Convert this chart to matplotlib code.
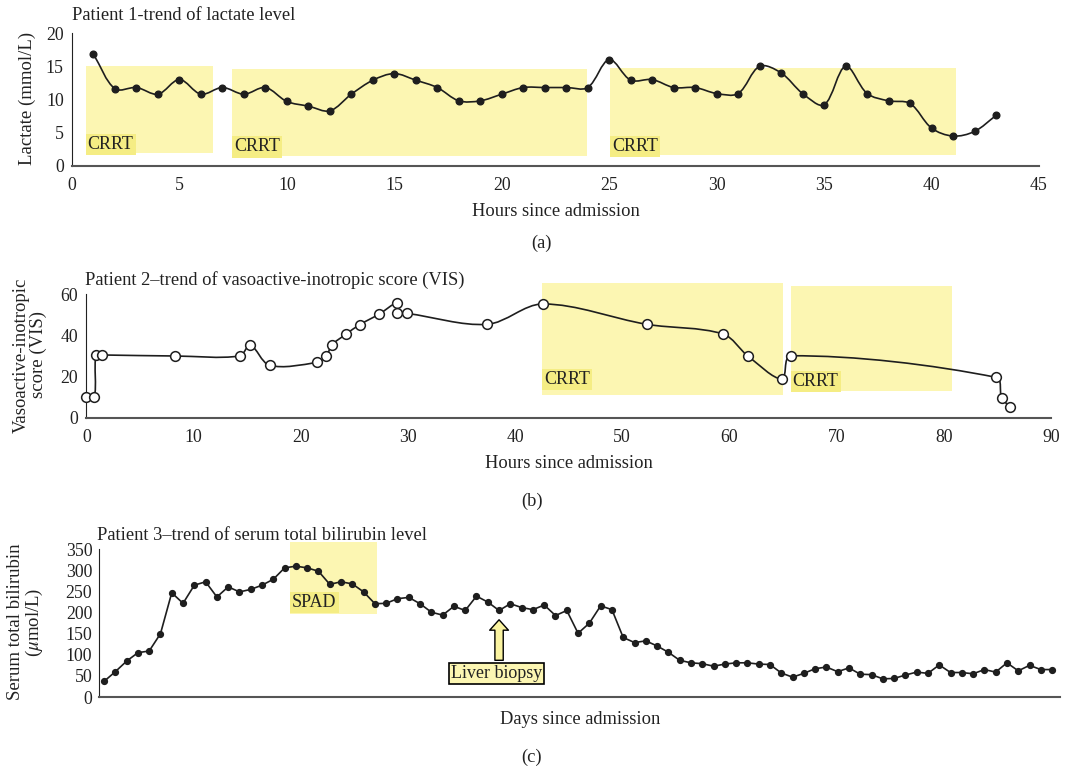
import matplotlib
matplotlib.use('Agg')
import math
import matplotlib.pyplot as plt
from matplotlib.path import Path
from matplotlib.patches import PathPatch, Rectangle

plt.rcParams['font.family'] = ['Liberation Serif', 'DejaVu Serif']
plt.rcParams['mathtext.fontset'] = 'stix'

# ---- data ----
lact_hours = list(range(1, 44))
lactate = [16.8, 11.6, 11.8, 10.8, 13.0, 10.8, 11.8, 10.8, 11.8, 9.7,
           9.0, 8.3, 10.8, 12.9, 13.9, 12.9, 11.8, 9.8, 9.8, 10.8,
           11.8, 11.8, 11.8, 11.8, 16.0, 12.9, 13.0, 11.8, 11.8, 10.9,
           10.9, 15.0, 14.0, 10.9, 9.2, 15.0, 10.9, 9.8, 9.4, 5.7,
           4.5, 5.2, 7.6]
lact_crrt = [(0.65, 6.55, 1.9, 15.0), (7.45, 23.95, 1.5, 14.6), (25.05, 41.15, 1.6, 14.7)]

vis_hours = [0, 0.75, 0.9, 1.5, 8.3, 14.3, 15.3, 17.1, 21.5, 22.4, 22.9, 24.2, 25.5,
             27.3, 29.0, 29.0, 29.9, 37.4, 42.6, 52.3, 59.4, 61.7, 64.9, 65.7,
             84.9, 85.4, 86.2]
vis = [10, 10, 30.5, 30.5, 30, 30, 35.3, 25.5, 26.9, 30, 35.3, 40.5, 45.2,
       50.3, 55.8, 50.7, 50.7, 45.4, 55.3, 45.4, 40.7, 30.1, 18.8, 30.1,
       19.6, 9.6, 5.2]
vis_crrt = [(42.5, 65.0, 11.0, 65.3), (65.7, 80.8, 13.1, 64.0)]

bili = [37, 60, 85, 105, 109, 150, 247, 222, 265, 273,
        237, 261, 249, 255, 265, 279, 306, 310, 306, 298,
        267, 273, 268, 249, 221, 222, 233, 236, 221, 201,
        194, 215, 205, 239, 225, 205, 221, 212, 207, 218,
        193, 205, 151, 175, 216, 207, 141, 129, 133, 121,
        106, 87, 81, 79, 73, 78, 81, 81, 78, 77,
        57, 47, 56, 67, 71, 60, 69, 54, 53, 43,
        44, 52, 59, 56, 76, 58, 58, 55, 65, 59,
        81, 62, 75, 65, 65]
bili_days = list(range(1, len(bili) + 1))
spad = (17.5, 25.2, 196, 367)

rect_c = '#FCF6B2'
lab_c = '#F5ED84'
line_c = '#1e1e1e'
W, H = 1066, 767


def smooth_path(xs, ys, sx, sy):
    # smoothed line (cubic bezier through the data points),
    # tangents weighted by segment length in pixels to avoid overshoot
    pts = list(zip(xs, ys))
    n = len(pts)

    def dist(a, b):
        return math.hypot((a[0] - b[0]) * sx, (a[1] - b[1]) * sy)

    verts = [pts[0]]
    codes = [Path.MOVETO]
    for i in range(n - 1):
        p0 = pts[i - 1] if i > 0 else pts[i]
        p1 = pts[i]
        p2 = pts[i + 1]
        p3 = pts[i + 2] if i + 2 < n else pts[i + 1]
        d0, d1, d2 = dist(p0, p1), dist(p1, p2), dist(p2, p3)
        k1 = d1 / (d0 + d1) / 3 if d0 + d1 > 0 else 0
        k2 = d1 / (d1 + d2) / 3 if d1 + d2 > 0 else 0
        c1 = (p1[0] + (p2[0] - p0[0]) * k1, p1[1] + (p2[1] - p0[1]) * k1)
        c2 = (p2[0] - (p3[0] - p1[0]) * k2, p2[1] - (p3[1] - p1[1]) * k2)
        verts += [c1, c2, p2]
        codes += [Path.CURVE4] * 3
    return Path(verts, codes)


def style(ax):
    for s in ['top', 'right']:
        ax.spines[s].set_visible(False)
    ax.spines['left'].set_color('#222222')
    ax.spines['bottom'].set_color('#555555')
    ax.spines['bottom'].set_linewidth(1.5)
    ax.tick_params(length=0, labelsize=12.8, colors='#222222', pad=6)
    ax.tick_params(axis='x', pad=8)


def ftext(x, y, s, **kw):
    fig.text(x / W, 1 - y / H, s, ha=kw.pop('ha', 'center'), va='center',
             color='#222222', **kw)


fig = plt.figure(figsize=(W / 100, H / 100), dpi=100)

# ---- panel (a) ----
ax1 = fig.add_axes([72 / W, 1 - 166 / H, 967 / W, 133 / H])
style(ax1)
for x0, x1, y0, y1 in lact_crrt:
    ax1.add_patch(Rectangle((x0, y0), x1 - x0, y1 - y0, fc=rect_c, ec='none', zorder=0))
    ax1.text(x0 + 0.08, y0 + 0.1, 'CRRT', fontsize=13, color='#222222', ha='left', va='bottom',
             bbox=dict(fc=lab_c, ec='none', pad=1.5), zorder=1)
ax1.add_patch(PathPatch(smooth_path(lact_hours, lactate, 967 / 45, 133 / 20),
                        fc='none', ec=line_c, lw=1.2, zorder=2))
ax1.plot(lact_hours, lactate, ls='none', marker='o', ms=4.8, color=line_c, zorder=3)
ax1.set_xlim(0, 45)
ax1.set_ylim(0, 20)
ax1.set_xticks(range(0, 46, 5))
ax1.set_yticks(range(0, 21, 5))

# ---- panel (b) ----
ax2 = fig.add_axes([86.3 / W, 1 - 417.7 / H, 964.7 / W, 123.4 / H])
style(ax2)
for x0, x1, y0, y1 in vis_crrt:
    ax2.add_patch(Rectangle((x0, y0), x1 - x0, y1 - y0, fc=rect_c, ec='none', zorder=0,
                            clip_on=False))
ax2.text(42.7, 14.5, 'CRRT', fontsize=13, color='#222222', ha='left', va='bottom',
         bbox=dict(fc=lab_c, ec='none', pad=1.5), zorder=1)
ax2.text(65.9, 13.6, 'CRRT', fontsize=13, color='#222222', ha='left', va='bottom',
         bbox=dict(fc=lab_c, ec='none', pad=1.5), zorder=1)
ax2.add_patch(PathPatch(smooth_path(vis_hours, vis, 964.7 / 90, 123.4 / 60),
                        fc='none', ec=line_c, lw=1.2, zorder=2))
ax2.plot(vis_hours, vis, ls='none', marker='o', ms=7, mfc='white', mec=line_c, mew=1.1, zorder=3,
         clip_on=False)
ax2.set_xlim(0, 90)
ax2.set_ylim(0, 60)
ax2.set_xticks(range(0, 91, 10))
ax2.set_yticks(range(0, 61, 20))

# ---- panel (c) ----
ax3 = fig.add_axes([99.3 / W, 1 - 697 / H, 960.7 / W, 147.7 / H])
style(ax3)
x0, x1, y0, y1 = spad
ax3.add_patch(Rectangle((x0, y0), x1 - x0, y1 - y0, fc=rect_c, ec='none', zorder=0, clip_on=False))
ax3.text(x0 + 0.15, 204, 'SPAD', fontsize=13, color='#222222', ha='left', va='bottom',
         bbox=dict(fc=lab_c, ec='none', pad=1.5), zorder=1)
ax3.plot(bili_days, bili, marker='o', ms=4.2, color=line_c, lw=1.2, zorder=3)
ax3.annotate('', xy=(36, 183), xytext=(36, 87),
             arrowprops=dict(arrowstyle='simple,head_length=0.75,head_width=1.35,tail_width=0.6',
                             mutation_scale=10, fc='#FAF3A0', ec='black', lw=1,
                             shrinkA=0, shrinkB=0), zorder=4)
ax3.text(35.76, 56, 'Liver biopsy', fontsize=13, color='#222222', ha='center', va='center',
         bbox=dict(boxstyle='square,pad=0.12', fc='#FCF6B2', ec='black', lw=1.2), zorder=5)
ax3.set_xlim(0.58, 85.7)
ax3.set_ylim(0, 350)
ax3.set_xticks([])
ax3.set_yticks(range(0, 351, 50))
ax3.tick_params(axis='y', pad=5)

# ---- texts ----
ftext(72, 16, 'Patient 1-trend of lactate level', ha='left', fontsize=13.3)
ftext(85, 280, 'Patient 2\u2013trend of vasoactive-inotropic score (VIS)', ha='left', fontsize=13.3)
ftext(97, 535, 'Patient 3\u2013trend of serum total bilirubin level', ha='left', fontsize=13.3)

ftext(556, 211, 'Hours since admission', fontsize=13.3)
ftext(569, 463, 'Hours since admission', fontsize=13.3)
ftext(580, 719, 'Days since admission', fontsize=13.3)

ftext(541, 243, '(a)', fontsize=13.3)
ftext(532, 501, '(b)', fontsize=13.3)
ftext(532, 757, '(c)', fontsize=13.3)

ftext(27, 98, 'Lactate (mmol/L)', rotation=90, fontsize=13.5)
ftext(30, 355, 'Vasoactive-inotropic\nscore (VIS)', rotation=90, fontsize=13.5,
      multialignment='center', linespacing=1.05)
ftext(26, 622, 'Serum total bilirubin\n($\\mu$mol/L)', rotation=90, fontsize=13.5,
      multialignment='center', linespacing=1.05)

fig.savefig('out.png', dpi=100, facecolor='white')
